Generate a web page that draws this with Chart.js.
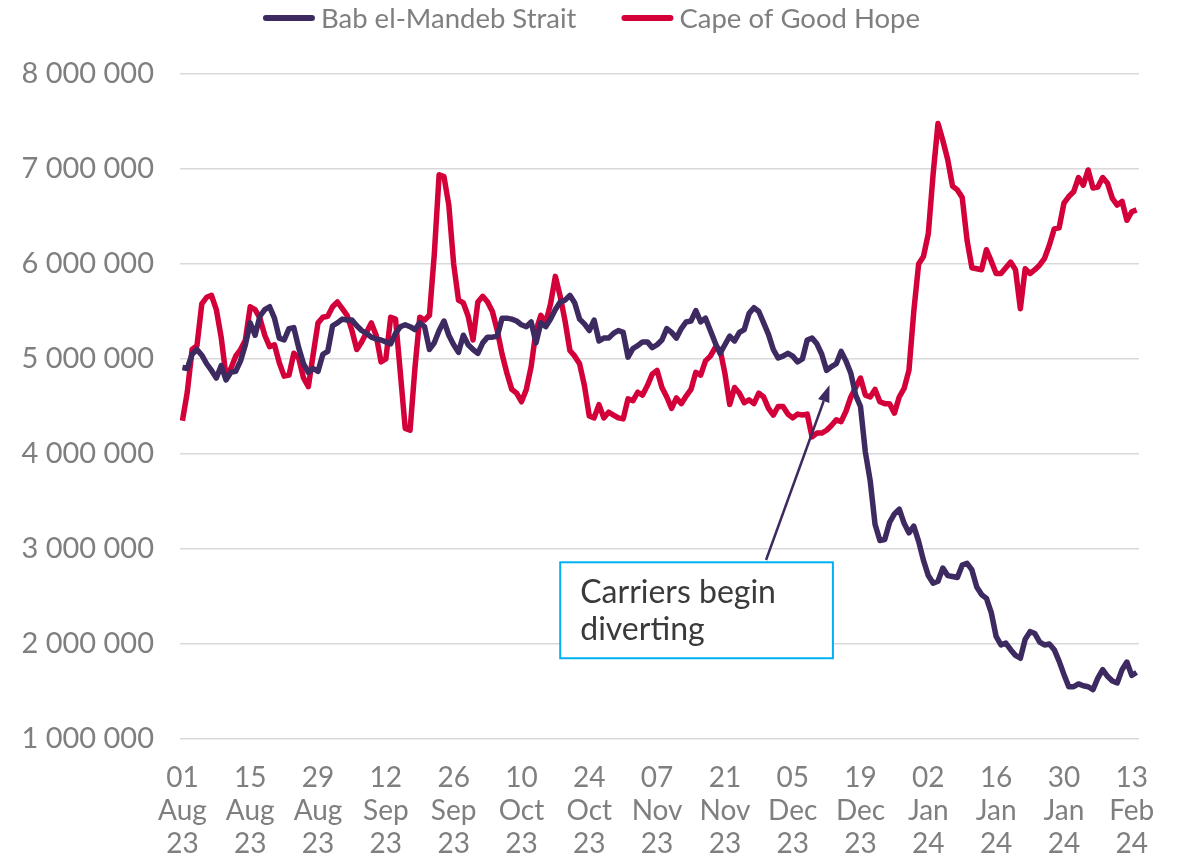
<!DOCTYPE html>
<html>
<head>
<meta charset="utf-8">
<title>Bab el-Mandeb vs Cape of Good Hope</title>
<script src="https://cdn.jsdelivr.net/npm/chart.js@4.4.1/dist/chart.umd.min.js"></script>
<style>
  html, body { margin: 0; padding: 0; background: #fff; }
  #wrap { width: 1183px; height: 856px; }
</style>
</head>
<body>
<div id="wrap"><canvas id="chart"></canvas></div>
<script>
// daily values, in millions, 01 Aug 2023 -> 14 Feb 2024
const babElMandeb = [
  4.91, 4.90, 5.05, 5.10, 5.04, 4.95, 4.88, 4.80, 4.93, 4.78,
  4.86, 4.87, 4.98, 5.15, 5.38, 5.25, 5.45, 5.52, 5.55, 5.43,
  5.22, 5.20, 5.32, 5.33, 5.12, 4.95, 4.86, 4.90, 4.87, 5.05,
  5.08, 5.35, 5.38, 5.42, 5.41, 5.41, 5.35, 5.30, 5.27, 5.23,
  5.21, 5.20, 5.18, 5.16, 5.27, 5.34, 5.36, 5.34, 5.31, 5.38,
  5.34, 5.10, 5.17, 5.30, 5.40, 5.25, 5.15, 5.07, 5.25, 5.15,
  5.10, 5.06, 5.17, 5.23, 5.23, 5.24, 5.43, 5.43, 5.42, 5.40,
  5.36, 5.34, 5.39, 5.17, 5.38, 5.34, 5.42, 5.52, 5.60, 5.62,
  5.67, 5.59, 5.42, 5.37, 5.30, 5.41, 5.19, 5.22, 5.22, 5.27,
  5.30, 5.28, 5.02, 5.11, 5.14, 5.18, 5.18, 5.12, 5.15, 5.20,
  5.32, 5.28, 5.22, 5.32, 5.39, 5.40, 5.51, 5.39, 5.43, 5.30,
  5.17, 5.06, 5.15, 5.24, 5.19, 5.28, 5.31, 5.48, 5.54, 5.50,
  5.38, 5.26, 5.10, 5.01, 5.03, 5.06, 5.03, 4.97, 5.00, 5.20,
  5.22, 5.16, 5.05, 4.88, 4.92, 4.95, 5.08, 4.98, 4.85, 4.62,
  4.50, 4.02, 3.72, 3.26, 3.09, 3.10, 3.28, 3.37, 3.42, 3.27,
  3.17, 3.24, 3.08, 2.88, 2.72, 2.64, 2.66, 2.80, 2.72, 2.71,
  2.70, 2.83, 2.85, 2.78, 2.60, 2.52, 2.48, 2.33, 2.08, 1.99,
  2.01, 1.94, 1.88, 1.85, 2.05, 2.13, 2.11, 2.02, 1.99, 2.00,
  1.94, 1.82, 1.68, 1.55, 1.55, 1.58, 1.56, 1.55, 1.52, 1.64,
  1.73, 1.66, 1.61, 1.59, 1.73, 1.81, 1.67, 1.70
];

const capeOfGoodHope = [
  4.35, 4.65, 5.10, 5.14, 5.58, 5.65, 5.67, 5.52, 5.23, 4.82,
  4.90, 5.03, 5.10, 5.20, 5.55, 5.52, 5.43, 5.25, 5.13, 5.15,
  4.96, 4.82, 4.83, 5.06, 5.01, 4.80, 4.71, 5.05, 5.38, 5.44,
  5.45, 5.55, 5.60, 5.53, 5.46, 5.30, 5.10, 5.18, 5.28, 5.38,
  5.25, 4.97, 5.00, 5.44, 5.42, 4.85, 4.27, 4.25, 4.90, 5.44,
  5.41, 5.46, 6.10, 6.94, 6.92, 6.62, 6.00, 5.62, 5.59, 5.45,
  5.20, 5.60, 5.66, 5.60, 5.50, 5.30, 5.05, 4.85, 4.68, 4.64,
  4.55, 4.68, 4.92, 5.30, 5.46, 5.38, 5.58, 5.87, 5.66, 5.40,
  5.09, 5.03, 4.95, 4.72, 4.40, 4.38, 4.52, 4.38, 4.44, 4.41,
  4.38, 4.37, 4.58, 4.56, 4.65, 4.62, 4.72, 4.84, 4.88, 4.70,
  4.60, 4.48, 4.59, 4.53, 4.61, 4.68, 4.86, 4.83, 4.98, 5.03,
  5.12, 5.10, 4.85, 4.52, 4.70, 4.64, 4.54, 4.57, 4.53, 4.64,
  4.60, 4.48, 4.41, 4.50, 4.50, 4.42, 4.38, 4.42, 4.41, 4.42,
  4.18, 4.22, 4.22, 4.25, 4.30, 4.36, 4.34, 4.45, 4.60, 4.70,
  4.80, 4.62, 4.60, 4.68, 4.55, 4.53, 4.53, 4.43, 4.60, 4.69,
  4.88, 5.50, 6.00, 6.08, 6.32, 6.95, 7.48, 7.30, 7.10, 6.82,
  6.78, 6.70, 6.25, 5.96, 5.95, 5.94, 6.15, 6.03, 5.90, 5.90,
  5.96, 6.02, 5.94, 5.53, 5.95, 5.90, 5.94, 5.99, 6.06, 6.20,
  6.37, 6.38, 6.64, 6.71, 6.76, 6.91, 6.83, 6.99, 6.80, 6.81,
  6.91, 6.85, 6.69, 6.62, 6.66, 6.46, 6.55, 6.57
];

const tickLabels = [
  '01 Aug 23', '15 Aug 23', '29 Aug 23', '12 Sep 23', '26 Sep 23',
  '10 Oct 23', '24 Oct 23', '07 Nov 23', '21 Nov 23', '05 Dec 23',
  '19 Dec 23', '02 Jan 24', '16 Jan 24', '30 Jan 24', '13 Feb 24'
];
const tickEvery = 14;

const seriesNames = ['Bab el-Mandeb Strait', 'Cape of Good Hope'];
const seriesColors = ['#3c2a60', '#d3003a'];

// one category per day
const months = ['Jan','Feb','Mar','Apr','May','Jun','Jul','Aug','Sep','Oct','Nov','Dec'];
const dates = [];
for (let i = 0; i < babElMandeb.length; i++) {
  const d = new Date(2023, 7, 1 + i);
  dates.push(String(d.getDate()).padStart(2, '0') + ' ' + months[d.getMonth()] + ' ' + String(d.getFullYear()).slice(2));
}

// text box + arrow, placed in data coordinates (day index, value)
const note = {
  lines: ['Carriers begin', 'diverting'],
  box: { x0: 78.0, x1: 134.3, y0: 2.86e6, y1: 1.85e6 },
  arrow: { fromX: 120.5, fromY: 2.884e6, toX: 133.6, toY: 4.726e6 }
};

Chart.defaults.font.family = 'Lato, "Open Sans", sans-serif';
Chart.defaults.color = '#7f7f7f';

function spaced(v) {
  return String(v).replace(/\B(?=(\d{3})+(?!\d))/g, ' ');
}

// legend drawn by hand so the gaps match the original
const topLegend = {
  id: 'topLegend',
  afterDraw(chart) {
    const ctx = chart.ctx;
    ctx.save();
    ctx.font = '27.5px ' + Chart.defaults.font.family;
    const sw = 52, gapText = 6, gapItem = 45;
    const widths = seriesNames.map(n => ctx.measureText(n).width);
    let total = 0;
    widths.forEach((w, i) => { total += sw + gapText + w + (i ? gapItem : 0); });
    let x = (chart.width - total) / 2;
    const y = 18;
    seriesNames.forEach((name, i) => {
      ctx.strokeStyle = seriesColors[i];
      ctx.lineWidth = 6;
      ctx.lineCap = 'round';
      ctx.beginPath();
      ctx.moveTo(x + 3, y);
      ctx.lineTo(x + sw - 3, y);
      ctx.stroke();
      ctx.fillStyle = '#7f7f7f';
      ctx.textBaseline = 'middle';
      ctx.textAlign = 'left';
      ctx.fillText(name, x + sw + gapText, y + 1);
      x += sw + gapText + widths[i] + gapItem;
    });
    ctx.restore();
  }
};

const callout = {
  id: 'callout',
  afterDatasetsDraw(chart) {
    const ctx = chart.ctx;
    const xs = chart.scales.x, ys = chart.scales.y;
    const bx0 = xs.getPixelForValue(note.box.x0), bx1 = xs.getPixelForValue(note.box.x1);
    const by0 = ys.getPixelForValue(note.box.y0), by1 = ys.getPixelForValue(note.box.y1);
    const ax0 = xs.getPixelForValue(note.arrow.fromX), ay0 = ys.getPixelForValue(note.arrow.fromY);
    const ax1 = xs.getPixelForValue(note.arrow.toX), ay1 = ys.getPixelForValue(note.arrow.toY);

    ctx.save();
    // arrow
    const ang = Math.atan2(ay1 - ay0, ax1 - ax0);
    const headLen = 17, headW = 6;
    ctx.strokeStyle = seriesColors[0];
    ctx.fillStyle = seriesColors[0];
    ctx.lineWidth = 2.5;
    ctx.beginPath();
    ctx.moveTo(ax0, ay0);
    ctx.lineTo(ax1 - Math.cos(ang) * headLen, ay1 - Math.sin(ang) * headLen);
    ctx.stroke();
    ctx.beginPath();
    ctx.moveTo(ax1, ay1);
    ctx.lineTo(ax1 - Math.cos(ang) * headLen + Math.sin(ang) * headW, ay1 - Math.sin(ang) * headLen - Math.cos(ang) * headW);
    ctx.lineTo(ax1 - Math.cos(ang) * headLen - Math.sin(ang) * headW, ay1 - Math.sin(ang) * headLen + Math.cos(ang) * headW);
    ctx.closePath();
    ctx.fill();

    // box
    ctx.fillStyle = '#ffffff';
    ctx.fillRect(bx0, by0, bx1 - bx0, by1 - by0);
    ctx.strokeStyle = '#00b0f0';
    ctx.lineWidth = 2;
    ctx.strokeRect(bx0, by0, bx1 - bx0, by1 - by0);

    ctx.fillStyle = '#3a3a3a';
    ctx.font = '32px ' + Chart.defaults.font.family;
    ctx.textAlign = 'left';
    ctx.textBaseline = 'alphabetic';
    note.lines.forEach((t, i) => ctx.fillText(t, bx0 + 20, by0 + 41 + i * 37));
    ctx.restore();
  }
};

new Chart(document.getElementById('chart'), {
  type: 'line',
  data: {
    labels: dates,
    datasets: [
      {
        label: seriesNames[0],
        data: babElMandeb.map(v => v * 1e6),
        borderColor: seriesColors[0],
        backgroundColor: seriesColors[0],
        borderWidth: 5.5,
        pointRadius: 0,
        tension: 0,
        borderJoinStyle: 'round'
      },
      {
        label: seriesNames[1],
        data: capeOfGoodHope.map(v => v * 1e6),
        borderColor: seriesColors[1],
        backgroundColor: seriesColors[1],
        borderWidth: 5.5,
        pointRadius: 0,
        tension: 0,
        borderJoinStyle: 'round'
      }
    ]
  },
  options: {
    responsive: true,
    maintainAspectRatio: false,
    animation: false,
    layout: { padding: { left: 18, right: 44, top: 74, bottom: 0 } },
    plugins: {
      legend: { display: false },
      tooltip: { enabled: false }
    },
    scales: {
      x: {
        offset: true,
        grid: { display: false, drawTicks: false },
        border: { display: false },
        afterFit: s => { s.height = 117; },
        ticks: {
          autoSkip: false,
          maxRotation: 0,
          padding: 23,
          font: { size: 28, lineHeight: 1.17 },
          color: '#7f7f7f',
          callback: (val, idx) => idx % tickEvery === 0 ? tickLabels[idx / tickEvery].split(' ') : ''
        }
      },
      y: {
        min: 1000000,
        max: 8000000,
        grid: { color: '#d9d9d9', lineWidth: 1.5, drawTicks: false },
        border: { display: false },
        afterFit: s => { s.width = 162; },
        ticks: {
          stepSize: 1000000,
          padding: 26,
          font: { size: 29 },
          color: '#7f7f7f',
          callback: v => spaced(v)
        }
      }
    }
  },
  plugins: [topLegend, callout]
});
</script>
</body>
</html>
